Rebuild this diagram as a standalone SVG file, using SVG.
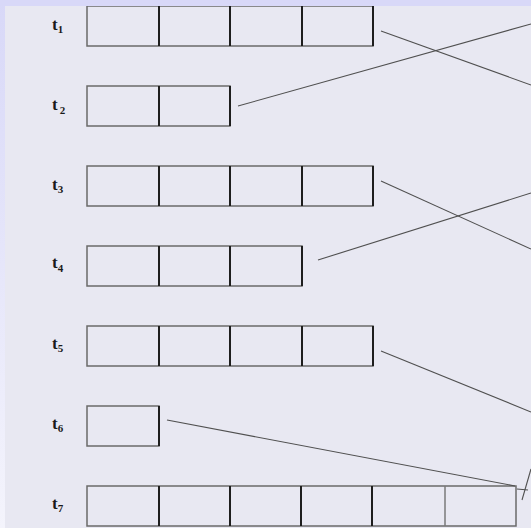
<svg xmlns="http://www.w3.org/2000/svg" width="531" height="528" viewBox="0 0 531 528">
<defs>
<linearGradient id="side" x1="0" y1="0" x2="0" y2="1">
<stop offset="0" stop-color="#d8d8f8"/>
<stop offset="1" stop-color="#f4f4fc"/>
</linearGradient>
<style>
.cell{fill:none;stroke:#6a6a6a;stroke-width:1.5}
.div{stroke:#1e1e1e;stroke-width:2}
.lbl{font-family:"Liberation Serif",serif;font-weight:bold;font-size:17px;fill:#1a1a1a}
.sub{font-size:11px}
.conn{stroke:#505050;stroke-width:1.1;fill:none}
</style>
</defs>
<rect width="531" height="528" fill="#e8e8f2"/>
<rect x="0" y="0" width="5" height="528" fill="url(#side)"/>
<g id="t1">
<rect class="cell" x="87" y="6" width="286" height="40"/>
<line class="div" x1="159" y1="6" x2="159" y2="46"/>
<line class="div" x1="230" y1="6" x2="230" y2="46"/>
<line class="div" x1="302" y1="6" x2="302" y2="46"/>
<line class="div" x1="373" y1="6" x2="373" y2="46"/>
<text class="lbl" x="52" y="30">t<tspan class="sub" dy="3">1</tspan></text>
</g>
<g id="t2">
<rect class="cell" x="87" y="86" width="143" height="40"/>
<line class="div" x1="159" y1="86" x2="159" y2="126"/>
<line class="div" x1="230" y1="86" x2="230" y2="126"/>
<text class="lbl" x="52" y="110">t<tspan class="sub" dx="2" dy="4">2</tspan></text>
</g>
<g id="t3">
<rect class="cell" x="87" y="166" width="286" height="40"/>
<line class="div" x1="159" y1="166" x2="159" y2="206"/>
<line class="div" x1="230" y1="166" x2="230" y2="206"/>
<line class="div" x1="302" y1="166" x2="302" y2="206"/>
<line class="div" x1="373" y1="166" x2="373" y2="206"/>
<text class="lbl" x="52" y="190">t<tspan class="sub" dy="3">3</tspan></text>
</g>
<g id="t4">
<rect class="cell" x="87" y="246" width="215" height="40"/>
<line class="div" x1="159" y1="246" x2="159" y2="286"/>
<line class="div" x1="230" y1="246" x2="230" y2="286"/>
<line class="div" x1="302" y1="246" x2="302" y2="286"/>
<text class="lbl" x="52" y="268">t<tspan class="sub" dy="4">4</tspan></text>
</g>
<g id="t5">
<rect class="cell" x="87" y="326" width="286" height="40"/>
<line class="div" x1="159" y1="326" x2="159" y2="366"/>
<line class="div" x1="230" y1="326" x2="230" y2="366"/>
<line class="div" x1="302" y1="326" x2="302" y2="366"/>
<line class="div" x1="373" y1="326" x2="373" y2="366"/>
<text class="lbl" x="52" y="349">t<tspan class="sub" dy="3">5</tspan></text>
</g>
<g id="t6">
<rect class="cell" x="87" y="406" width="72" height="40"/>
<line class="div" x1="159" y1="406" x2="159" y2="446"/>
<text class="lbl" x="52" y="429">t<tspan class="sub" dy="3">6</tspan></text>
</g>
<g id="t7">
<rect class="cell" x="87" y="486" width="429" height="40"/>
<line class="div" x1="159" y1="486" x2="159" y2="526"/>
<line class="div" x1="230" y1="486" x2="230" y2="526"/>
<line class="div" x1="301" y1="486" x2="301" y2="526"/>
<line class="div" x1="372" y1="486" x2="372" y2="526"/>
<line x1="445" y1="486" x2="445" y2="526" stroke="#7a7a7a" stroke-width="1.5"/>
<text class="lbl" x="52" y="509">t<tspan class="sub" dy="3">7</tspan></text>
</g>
<g id="connectors">
<line class="conn" x1="381" y1="31" x2="531" y2="85"/>
<line class="conn" x1="238" y1="106" x2="531" y2="24"/>
<line class="conn" x1="381" y1="181" x2="531" y2="249"/>
<line class="conn" x1="318" y1="260" x2="531" y2="193"/>
<line class="conn" x1="381" y1="351" x2="531" y2="412"/>
<line class="conn" x1="167" y1="420" x2="515" y2="486"/>
<line class="conn" x1="522" y1="500" x2="531" y2="469"/>
<line class="conn" x1="517" y1="489" x2="528" y2="490"/>
</g>
<rect x="0" y="0" width="531" height="6" fill="#d8d8f8"/>
</svg>
